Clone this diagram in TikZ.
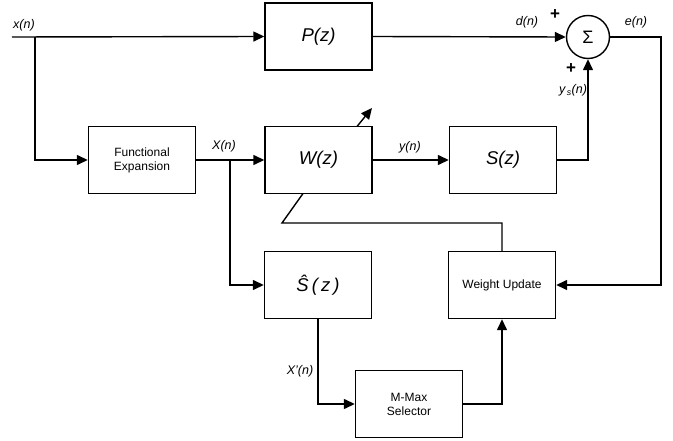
\documentclass[tikz,border=0pt]{standalone}
\usepackage{fontspec}
\setmainfont{Liberation Sans}
\usetikzlibrary{arrows.meta}
\tikzset{
  blk/.style={draw, line width=1.4pt, minimum width=107pt, minimum height=67pt, inner sep=0pt, align=center, font=\fontsize{12}{14}\selectfont},
  bigtxt/.style={font=\fontsize{18.5}{20}\selectfont\itshape},
  lbl/.style={font=\fontsize{12.5}{14}\selectfont\itshape, inner sep=0pt},
  pls/.style={font=\fontsize{17}{18}\selectfont\bfseries, inner sep=0pt},
  wire/.style={line width=1.4pt},
  arr/.style={wire, -{Triangle[length=11pt,width=10pt]}},
}
\begin{document}
\begin{tikzpicture}[x=1pt,y=-1pt]
\useasboundingbox (0,0) rectangle (673,441);
% blocks
\node[blk, bigtxt] (P) at (318.5,36.5) {P(z)};
\node[blk] (FE) at (142,160) {Functional\\Expansion};
\node[blk, bigtxt] (W) at (318.5,160) {W(z)};
\node[blk, bigtxt] (S) at (503,160) {S(z)};
\node[blk, bigtxt] (Sh) at (318,285) {\^S\,(\,z\,)};
\node[blk] (WU) at (502,285) {Weight Update};
\node[blk] (MM) at (409,404) {M-Max\\Selector};
\node[draw, circle, line width=1.4pt, minimum size=43pt, inner sep=0pt, font=\fontsize{18}{18}\selectfont] (sum) at (588,37) {Σ};
% coordinates
\coordinate (xin) at (12,37);
\coordinate (xb) at (35,37);
\coordinate (Xb) at (230,160);
\coordinate (ecorner) at (661,37);
\coordinate (fbk) at (282,223);
\coordinate (wlow) at (303,193.5);
\coordinate (adA) at (357,126.5);
\coordinate (adB) at (372,108);
% connectors
\draw[arr] (xin) -- (P.west);
\draw[arr] (xb) |- (FE.west);
\draw[arr] (P.east) -- (sum.west);
\draw[arr] (FE.east) -- (W.west);
\draw[arr] (Xb) |- (Sh.west);
\draw[arr] (W.east) -- (S.west);
\draw[arr] (S.east) -| (sum.south);
\draw[arr] (sum.east) -- (ecorner) |- (WU.east);
\draw[arr] (Sh.south) |- (MM.west);
\draw[arr] (MM.east) -| (WU.south);
\draw[wire] (WU.north) |- (fbk) -- (wlow);
\draw[arr] (adA) -- (adB);
% labels
\node[lbl] (lx) at (24,25) {x(n)};
\node[lbl] (ld) at (527,22) {d(n)};
\node[pls] (p1) at (555,15) {+};
\node[lbl] (le) at (636,22) {e(n)};
\node[pls] (p2) at (571,69) {+};
\node[lbl] (ly) at (573,90) {y\textsubscript{\,s}(n)};
\node[lbl] (lX) at (224,146) {X(n)};
\node[lbl] (lyn) at (410,147) {y(n)};
\node[lbl] (lXp) at (300,371) {X'(n)};
\end{tikzpicture}
\end{document}
